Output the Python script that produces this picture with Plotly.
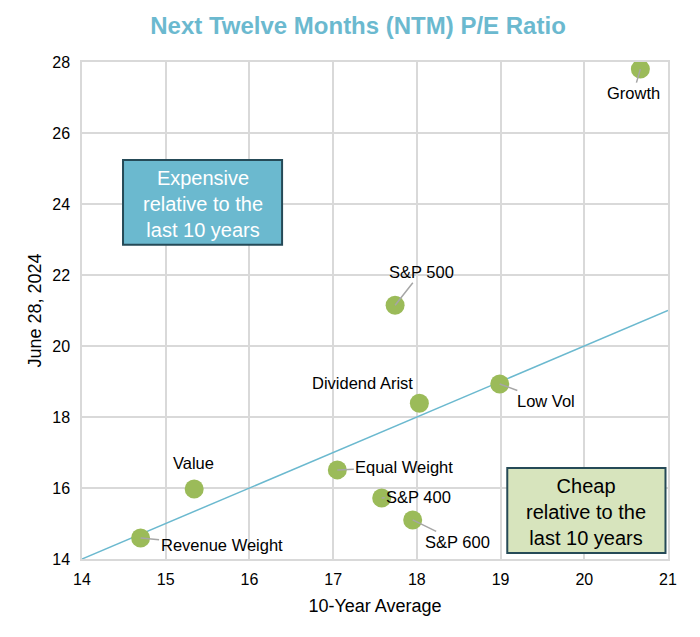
import plotly.graph_objects as go

names = ["Growth", "S&P 500", "Dividend Arist", "Low Vol", "Equal Weight",
         "Value", "S&P 400", "S&P 600", "Revenue Weight"]
ten_year_avg = [20.67, 17.74, 18.03, 18.99, 17.05, 15.34, 17.58, 17.95, 14.70]
current_pe = [27.8, 21.15, 18.39, 18.93, 16.51, 15.97, 15.72, 15.10, 14.59]

# label offsets (pixels) and whether a leader line is drawn
label_ax = [-7, 26, -57, 46, 67, -1, 37, 45, 81]
label_ay = [24, -33, -20, 17, -3, -26, -1, 22, 7]
leader = [True, True, False, True, True, False, True, True, True]

x_ticks = [14, 15, 16, 17, 18, 19, 20, 21]
y_ticks = [14, 16, 18, 20, 22, 24, 26, 28]

FONT = "Arial, Liberation Sans, sans-serif"
TEAL = "#6BB9CF"
GREEN = "#9BBB59"

fig = go.Figure()

# parity line
fig.add_trace(go.Scatter(x=[14, 21], y=[14, 21], mode="lines",
                         line=dict(color=TEAL, width=1.5),
                         hoverinfo="skip", showlegend=False))

fig.add_trace(go.Scatter(x=ten_year_avg, y=current_pe, mode="markers",
                         marker=dict(size=19, color=GREEN),
                         text=names, showlegend=False))

annotations = []
for n, x, y, ax, ay, ld in zip(names, ten_year_avg, current_pe, label_ax, label_ay, leader):
    if ld:
        annotations.append(dict(x=x, y=y, xref="x", yref="y", text=n,
                                showarrow=True, arrowhead=0, arrowwidth=1.5,
                                arrowcolor="#A6A6A6", ax=ax, ay=ay,
                                font=dict(family=FONT, size=16.5, color="#000000")))
    else:
        annotations.append(dict(x=x, y=y, xref="x", yref="y", text=n,
                                showarrow=False, xshift=ax, yshift=-ay,
                                font=dict(family=FONT, size=16.5, color="#000000")))

# boxes
shapes = [
    dict(type="rect", xref="x", yref="y", x0=14.49, x1=16.39, y0=22.85, y1=25.24,
         fillcolor=TEAL, line=dict(color="#254A57", width=2), layer="above"),
    dict(type="rect", xref="x", yref="y", x0=19.08, x1=20.97, y0=14.17, y1=16.56,
         fillcolor="#D7E4BD", line=dict(color="#254A57", width=2), layer="above"),
]
annotations.append(dict(x=15.44, y=24.0, xref="x", yref="y",
                        text="Expensive<br>relative to the<br>last 10 years",
                        showarrow=False, font=dict(family=FONT, size=20, color="white")))
annotations.append(dict(x=20.025, y=15.32, xref="x", yref="y",
                        text="Cheap<br>relative to the<br>last 10 years",
                        showarrow=False, font=dict(family=FONT, size=20, color="black")))

fig.update_layout(
    width=700, height=637,
    paper_bgcolor="white", plot_bgcolor="white",
    margin=dict(l=74, r=40, t=54, b=86),
    title=dict(text="<b>Next Twelve Months (NTM) P/E Ratio</b>", x=0.5, xanchor="center",
               y=0.972, yanchor="middle",
               font=dict(family=FONT, size=24, color=TEAL)),
    font=dict(family=FONT, size=16, color="black"),
    annotations=annotations, shapes=shapes,
)
fig.update_xaxes(range=[14, 21], tickvals=x_ticks, showgrid=True, gridcolor="#D9D9D9",
                 gridwidth=1.5, zeroline=False, showline=True, linecolor="#D9D9D9",
                 linewidth=1.5, mirror=True, ticks="", tickfont=dict(size=16),
                 ticklabelstandoff=5,
                 title=dict(text="10-Year Average", font=dict(size=18), standoff=12))
fig.update_yaxes(range=[14, 28], tickvals=y_ticks, showgrid=True, gridcolor="#D9D9D9",
                 gridwidth=1.5, zeroline=False, showline=True, linecolor="#D9D9D9",
                 linewidth=1.5, mirror=True, ticks="", tickfont=dict(size=16),
                 ticklabelstandoff=7,
                 title=dict(text="June 28, 2024", font=dict(size=18), standoff=6))

fig.write_html("out.html")
